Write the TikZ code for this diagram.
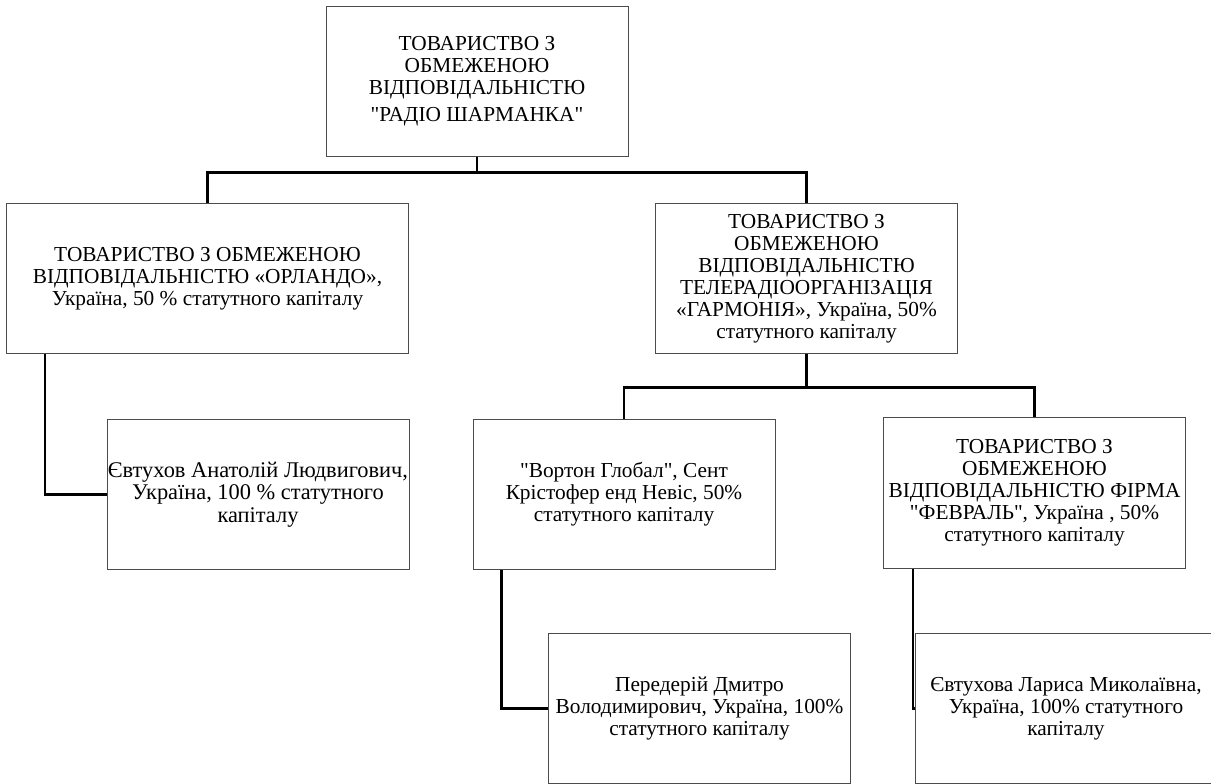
\documentclass[tikz,border=0pt]{standalone}
\usepackage{fontspec}
\setmainfont{Liberation Serif}
\newfontfamily\firmfont{Liberation Serif}
\usetikzlibrary{positioning,calc}
\tikzstyle{firm} = [rectangle, draw=black!70, line width=0.6pt, minimum width=226.5pt, minimum height=113pt, inner sep=0pt, align=center, font=\firmfont\fontsize{16}{16.5}\selectfont]
\tikzstyle{link} = [line width=2pt, black]

\begin{document}
\begin{tikzpicture}[x=0.75pt, y=-0.75pt, line join=miter]
		            \useasboundingbox (0,0) rectangle (1211,783);
		            \clip (0,0) rectangle (1211,783);
		            \node (radio) [firm] at (477,81.5)
			            {ТОВАРИСТВО З\\ОБМЕЖЕНОЮ\\ВІДПОВІДАЛЬНІСТЮ\\[4pt]"РАДІО ШАРМАНКА"};
		            \node (orlando) [firm, minimum width=301.5pt] at (207.5,278.5)
			            {ТОВАРИСТВО З ОБМЕЖЕНОЮ\\ВІДПОВІДАЛЬНІСТЮ «ОРЛАНДО»,\\Україна, 50 \% статутного капіталу};
		            \node (garmonia) [firm] at (806.5,278.5)
			            {ТОВАРИСТВО З\\ОБМЕЖЕНОЮ\\ВІДПОВІДАЛЬНІСТЮ\\ТЕЛЕРАДІООРГАНІЗАЦІЯ\\«ГАРМОНІЯ», Україна, 50\%\\статутного капіталу};
		            \node (evtukhov) [firm, font=\firmfont\fontsize{16.8}{17}\selectfont] at (258,494.5)
			            {Євтухов Анатолій Людвигович,\\Україна, 100 \% статутного\\капіталу};
		            \node (vorton) [firm] at (624,494.5)
			            {"Вортон Глобал", Сент\\Крістофер енд Невіс, 50\%\\статутного капіталу};
		            \node (fevral) [firm] at (1034.5,493)
			            {ТОВАРИСТВО З\\ОБМЕЖЕНОЮ\\ВІДПОВІДАЛЬНІСТЮ ФІРМА\\"ФЕВРАЛЬ", Україна , 50\%\\статутного капіталу};
		            \node (perederii) [firm] at (699.5,708.5)
			            {Передерій Дмитро\\Володимирович, Україна, 100\%\\статутного капіталу};
		            \node (evtukhova) [firm] at (1066,708.5)
			            {Євтухова Лариса Миколаївна,\\Україна, 100\% статутного\\капіталу};
			        \draw [link] (radio.south) -- ++(0,15) coordinate (split1);
			        \draw [link] (split1) -| (orlando.north);
			        \draw [link] (split1) -| (garmonia.north);
			        \draw [link] (garmonia.south) -- ++(0,33) coordinate (split2);
			        \draw [link] (split2) -| (vorton.north);
			        \draw [link] (split2) -| (fevral.north);
			        \draw [link] ([shift={(39,0)}]orlando.south west) |- (evtukhov.west);
			        \draw [link] ([shift={(29,0)}]vorton.south west) |- (perederii.west);
			        \draw [link] ([shift={(30,0)}]fevral.south west) |- (evtukhova.west);
	            \end{tikzpicture}
\end{document}
